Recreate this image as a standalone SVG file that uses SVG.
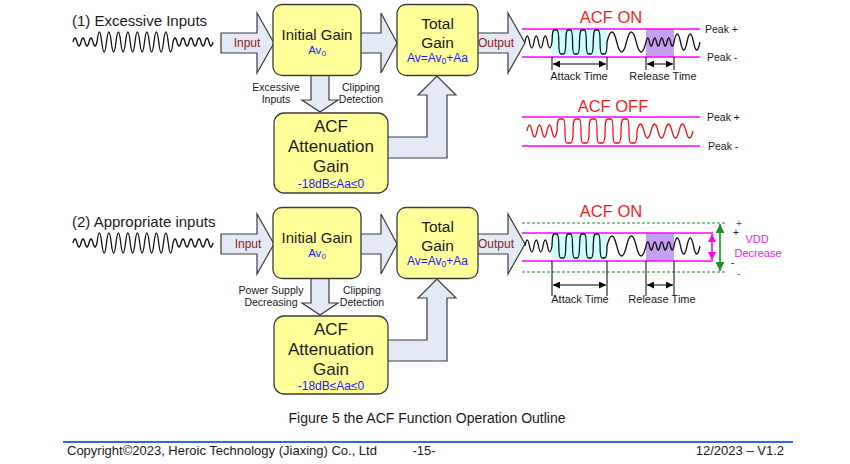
<svg xmlns="http://www.w3.org/2000/svg" xmlns:xlink="http://www.w3.org/1999/xlink" width="850" height="464" viewBox="0 0 850 464">
<style>
text{font-family:"Liberation Sans",Arial,Helvetica,sans-serif;fill:#1a1a1a}
.box{fill:#ffff99;stroke:#3c3c3c;stroke-width:1.3}
.arr{fill:#e3e9f5;stroke:#3c3c3c;stroke-width:1.2;stroke-linejoin:miter}
.wave{fill:none;stroke:#111;stroke-width:1.3;stroke-linejoin:round}
.rwave{fill:none;stroke:#ee1111;stroke-width:1.3;stroke-linejoin:round}
.mag{stroke:#ff00ff;stroke-width:1.6}
.dim{stroke:#000;stroke-width:1}
.grn{stroke:#1f8f1f;stroke-width:1.2;stroke-dasharray:3,2}
.io{font-size:12px;fill:#8b1c1c;text-anchor:middle}
.nt{font-size:15px;text-anchor:middle}
.big{font-size:17px;text-anchor:middle}
.bl{fill:#1a1aff;text-anchor:middle}
.sm{font-size:10.5px;text-anchor:middle}
.pk{font-size:10.5px}
.acf{font-size:16.5px;fill:#ff1a1a;text-anchor:middle}
.tm{font-size:11px;text-anchor:middle}
</style>
<defs>
<marker id="ah" viewBox="0 0 10 10" refX="10" refY="5" markerWidth="8" markerHeight="7" markerUnits="userSpaceOnUse" orient="auto-start-reverse"><path d="M0,0 L10,5 L0,10 z" fill="#000"/></marker>
<marker id="ahg" viewBox="0 0 10 10" refX="10" refY="5" markerWidth="9" markerHeight="9" markerUnits="userSpaceOnUse" orient="auto-start-reverse"><path d="M0,0 L10,5 L0,10 z" fill="#1f8f1f"/></marker>
<marker id="ahm" viewBox="0 0 10 10" refX="10" refY="5" markerWidth="8" markerHeight="9" markerUnits="userSpaceOnUse" orient="auto-start-reverse"><path d="M0,0 L10,5 L0,10 z" fill="#ff00ff"/></marker>
<path id="inwave" d="M73,42 q2,-8 4,0 t4,0 t4,0 t4,0 t4,0 t4,0 q2.375,-20 4.75,0 t4.75,0 t4.75,0 t4.75,0 t4.75,0 t4.75,0 t4.75,0 t4.75,0 t4.75,0 t4.75,0 t4.75,0 t4.75,0 t4.75,0 t4.75,0 t4.75,0 t4.75,0 q2,-8 4,0 t4,0 t4,0 t4,0 t4,0 t4,0 t4,0 t4,0 t4,0 t4,0"/>
<path id="onwave" d="M525,42 q2.25,-12 4.5,0 t4.5,0 t4.5,0 t4.5,0 t4.5,0 t4.5,0 c0.3,-9 0.7,-12 2.2,-12 h2.5 c1.5,0 2.1,3 2.1,12 c0,9 0.6,12 2.1,12 h2.5 c1.5,0 2.35,-3 2.35,-12 c0.3,-9 0.7,-12 2.2,-12 h2.5 c1.5,0 2.1,3 2.1,12 c0,9 0.6,12 2.1,12 h2.5 c1.5,0 2.35,-3 2.35,-12 c0.3,-9 0.7,-12 2.2,-12 h2.5 c1.5,0 2.1,3 2.1,12 c0,9 0.6,12 2.1,12 h2.5 c1.5,0 2.35,-3 2.35,-12 c0.3,-9 0.7,-12 2.2,-12 h2.5 c1.5,0 2.1,3 2.1,12 c0,9 0.6,12 2.1,12 h2.5 c1.5,0 2.35,-3 2.35,-12 q4.875,-20 9.75,0 t9.75,0 t9.75,0 t9.75,0 q1.75,-8 3.5,0 t3.5,0 t3.5,0 t3.5,0 t3.5,0 t3.5,0 t3.5,0 t3.5,0 q3.25,-16 6.5,0 t6.5,0 t6.5,0 t6.5,0"/>
</defs>
<rect width="850" height="464" fill="#fff"/>

<!-- ===== Section 1 ===== -->
<text x="72" y="26" style="font-size:15px">(1) Excessive Inputs</text>
<g id="input-wave-1"><use xlink:href="#inwave" href="#inwave" class="wave"/></g>

<g id="connectors">
  <polygon id="arrow-input-1" class="arr" points="221,33 257,33 257,13 274,43 257,73 257,53 221,53"/>
  <polygon id="arrow-mid-1" class="arr" points="358,33 381,33 381,13 397,43 381,73 381,53 358,53"/>
  <polygon id="arrow-output-1" class="arr" points="475,33 508,33 508,13 525,43 508,73 508,53 475,53"/>
  <polygon id="arrow-down-1" class="arr" points="311,73 329,73 329,100 338,100 320,112 302,100 311,100"/>
  <polygon id="arrow-l-1" class="arr" points="385,137 427,137 427,95 418,95 437,76 456,95 447,95 447,158 385,158"/>
  <polygon id="arrow-input-2" class="arr" points="221,234 257,234 257,214 274,244 257,274 257,254 221,254"/>
  <polygon id="arrow-mid-2" class="arr" points="358,234 381,234 381,214 397,244 381,274 381,254 358,254"/>
  <polygon id="arrow-output-2" class="arr" points="475,234 508,234 508,214 525,244 508,274 508,254 475,254"/>
  <polygon id="arrow-down-2" class="arr" points="311,276 329,276 329,303 338,303 320,315 302,303 311,303"/>
  <polygon id="arrow-l-2" class="arr" points="385,340 427,340 427,298 418,298 437,279 456,298 447,298 447,361 385,361"/>
</g>

<text class="io" x="247" y="47">Input</text>
<text class="io" x="496" y="47">Output</text>

<g id="initial-gain-1">
  <rect class="box" x="273" y="4.5" width="88" height="71" rx="9"/>
  <text class="nt" x="317" y="40">Initial Gain</text>
  <text class="bl" x="317" y="54" style="font-size:11.5px">Av<tspan font-size="8" dy="2">0</tspan></text>
</g>
<g id="total-gain-1">
  <rect class="box" x="397" y="4.5" width="81" height="71" rx="9"/>
  <text class="nt" x="437.5" y="29" style="font-size:15.5px">Total</text>
  <text class="nt" x="437.5" y="48" style="font-size:15.5px">Gain</text>
  <text class="bl" x="437.5" y="62" style="font-size:12px">Av=Av<tspan font-size="8.5" dy="2">0</tspan><tspan dy="-2">+Aa</tspan></text>
</g>
<text class="sm" x="276" y="91">Excessive</text>
<text class="sm" x="276" y="103">Inputs</text>
<text class="sm" x="361" y="91">Clipping</text>
<text class="sm" x="361" y="103">Detection</text>
<g id="acf-gain-1">
  <rect class="box" x="274" y="113" width="114" height="80" rx="10"/>
  <text class="big" x="331" y="132">ACF</text>
  <text class="big" x="331" y="152">Attenuation</text>
  <text class="big" x="331" y="172">Gain</text>
  <text class="bl" x="331" y="188" style="font-size:12px">-18dB≤Aa≤0</text>
</g>

<g id="acf-on-1">
  <rect x="552" y="29" width="55" height="28" fill="#ccffff"/>
  <rect x="646" y="29" width="28" height="28" fill="#c69ef2"/>
  <line class="mag" x1="522" y1="29" x2="700" y2="29"/>
  <line class="mag" x1="522" y1="57" x2="700" y2="57"/>
  <use xlink:href="#onwave" href="#onwave" class="wave"/>
  <text class="acf" x="611" y="23">ACF ON</text>
  <text class="pk" x="705" y="33">Peak +</text>
  <text class="pk" x="707" y="61">Peak -</text>
  <line class="dim" x1="552" y1="57" x2="552" y2="70"/>
  <line class="dim" x1="607" y1="57" x2="607" y2="70"/>
  <line class="dim" x1="646" y1="57" x2="646" y2="70"/>
  <line class="dim" x1="674" y1="57" x2="674" y2="70"/>
  <line class="dim" x1="553" y1="64" x2="606" y2="64" marker-start="url(#ah)" marker-end="url(#ah)"/>
  <line class="dim" x1="647" y1="64" x2="673" y2="64" marker-start="url(#ah)" marker-end="url(#ah)"/>
  <text class="tm" x="579" y="80">Attack Time</text>
  <text class="tm" x="663" y="80">Release Time</text>
</g>

<g id="acf-off">
  <text class="acf" x="613" y="112">ACF OFF</text>
  <line class="mag" x1="522" y1="117" x2="700" y2="117"/>
  <line class="mag" x1="522" y1="146" x2="700" y2="146"/>
  <path class="rwave" d="M527,131 q2.5,-12 5,0 t5,0 t5,0 t5,0 t5,0 t5,0 c0.3,-9 0.8,-12 2.5,-12 h3.5 c1.5,0 2,3 2,12 c0,9 0.5,12 2,12 h3.5 c1.7,0 2.5,-3 2.5,-12 c0.3,-9 0.8,-12 2.5,-12 h3.5 c1.5,0 2,3 2,12 c0,9 0.5,12 2,12 h3.5 c1.7,0 2.5,-3 2.5,-12 c0.3,-9 0.8,-12 2.5,-12 h3.5 c1.5,0 2,3 2,12 c0,9 0.5,12 2,12 h3.5 c1.7,0 2.5,-3 2.5,-12 c0.3,-9 0.8,-12 2.5,-12 h3.5 c1.5,0 2,3 2,12 c0,9 0.5,12 2,12 h3.5 c1.7,0 2.5,-3 2.5,-12 c0.3,-9 0.8,-12 2.5,-12 h3.5 c1.5,0 2,3 2,12 c0,9 0.5,12 2,12 h3.5 c1.7,0 2.5,-3 2.5,-12 q3.5,-14 7,0 t7,0 t7,0 t7,0 t7,0 t7,0 t7,0 t7,0"/>
  <text class="pk" x="707" y="121">Peak +</text>
  <text class="pk" x="708" y="150">Peak -</text>
</g>

<!-- ===== Section 2 ===== -->
<text x="72" y="227" style="font-size:15px">(2) Appropriate inputs</text>
<g id="input-wave-2"><use xlink:href="#inwave" href="#inwave" class="wave" transform="translate(0,201)"/></g>

<text class="io" x="248" y="248">Input</text>
<text class="io" x="496" y="248">Output</text>

<g id="initial-gain-2">
  <rect class="box" x="273" y="207.5" width="88" height="71" rx="9"/>
  <text class="nt" x="317" y="243">Initial Gain</text>
  <text class="bl" x="317" y="257" style="font-size:11.5px">Av<tspan font-size="8" dy="2">0</tspan></text>
</g>
<g id="total-gain-2">
  <rect class="box" x="397" y="207.5" width="81" height="71" rx="9"/>
  <text class="nt" x="437.5" y="232" style="font-size:15.5px">Total</text>
  <text class="nt" x="437.5" y="251" style="font-size:15.5px">Gain</text>
  <text class="bl" x="437.5" y="265" style="font-size:12px">Av=Av<tspan font-size="8.5" dy="2">0</tspan><tspan dy="-2">+Aa</tspan></text>
</g>
<text class="sm" x="271" y="294">Power Supply</text>
<text class="sm" x="271" y="306">Decreasing</text>
<text class="sm" x="362" y="294">Clipping</text>
<text class="sm" x="362" y="306">Detection</text>
<g id="acf-gain-2">
  <rect class="box" x="274" y="316" width="114" height="78" rx="10"/>
  <text class="big" x="331" y="335">ACF</text>
  <text class="big" x="331" y="355">Attenuation</text>
  <text class="big" x="331" y="375">Gain</text>
  <text class="bl" x="331" y="390" style="font-size:12px">-18dB≤Aa≤0</text>
</g>

<g id="acf-on-2">
  <text class="acf" x="611" y="217">ACF ON</text>
  <line class="grn" x1="522" y1="223" x2="725" y2="223"/>
  <line class="grn" x1="522" y1="272" x2="725" y2="272"/>
  <rect x="552" y="233" width="55" height="28" fill="#ccffff"/>
  <rect x="646" y="233" width="28" height="28" fill="#c69ef2"/>
  <line class="mag" x1="522" y1="233" x2="713" y2="233"/>
  <line class="mag" x1="522" y1="261" x2="713" y2="261"/>
  <use xlink:href="#onwave" href="#onwave" class="wave" transform="translate(0,204)"/>
  <line x1="712" y1="234" x2="712" y2="260" stroke="#ff00ff" stroke-width="1.6" marker-start="url(#ahm)" marker-end="url(#ahm)"/>
  <line x1="720" y1="224" x2="720" y2="271" stroke="#1f8f1f" stroke-width="1.6" marker-start="url(#ahg)" marker-end="url(#ahg)"/>
  <text x="736" y="227" style="font-size:10px;fill:#1f8f1f">+</text>
  <text x="733" y="236" style="font-size:10px">+</text>
  <text x="731" y="266" style="font-size:10px">-</text>
  <text x="737" y="277" style="font-size:10px;fill:#1f8f1f">-</text>
  <text x="757" y="243" style="font-size:11px;fill:#ee22ee;text-anchor:middle">VDD</text>
  <text x="758" y="257" style="font-size:11px;fill:#ee22ee;text-anchor:middle">Decrease</text>
  <line class="dim" x1="552" y1="261" x2="552" y2="296"/>
  <line class="dim" x1="607" y1="261" x2="607" y2="296"/>
  <line class="dim" x1="646" y1="261" x2="646" y2="296"/>
  <line class="dim" x1="674" y1="261" x2="674" y2="296"/>
  <line class="dim" x1="553" y1="285" x2="606" y2="285" marker-start="url(#ah)" marker-end="url(#ah)"/>
  <line class="dim" x1="647" y1="285" x2="673" y2="285" marker-start="url(#ah)" marker-end="url(#ah)"/>
  <text class="tm" x="580" y="303">Attack Time</text>
  <text class="tm" x="662" y="303">Release Time</text>
</g>

<!-- ===== Footer ===== -->
<text x="427" y="423" style="font-size:14px;text-anchor:middle">Figure 5 the ACF Function Operation Outline</text>
<line x1="63" y1="442" x2="793" y2="442" stroke="#3366e6" stroke-width="2.2"/>
<text x="67" y="455" style="font-size:13px">Copyright©2023, Heroic Technology (Jiaxing) Co., Ltd</text>
<text x="424" y="455" style="font-size:13px;text-anchor:middle">-15-</text>
<text x="784" y="455" style="font-size:13px;text-anchor:end">12/2023 – V1.2</text>
</svg>
